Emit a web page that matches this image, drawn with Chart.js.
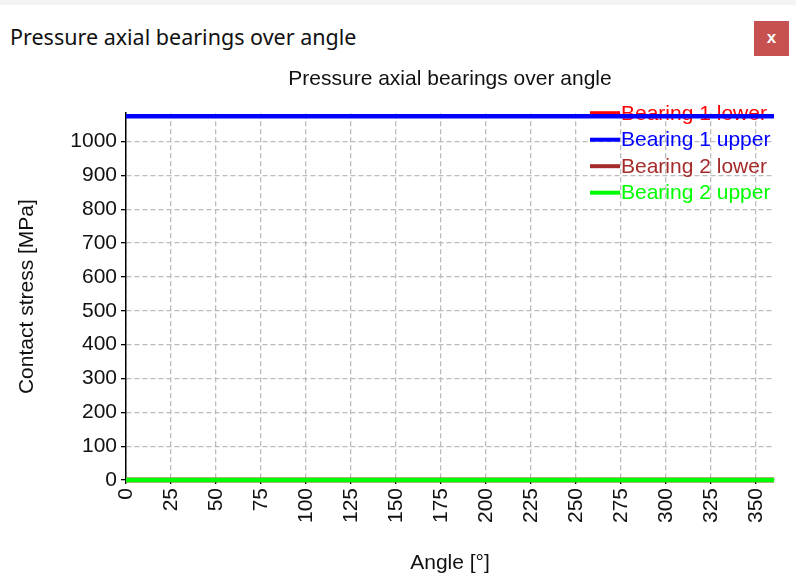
<!DOCTYPE html>
<html>
<head>
<meta charset="utf-8">
<script src="https://cdn.jsdelivr.net/npm/chart.js@4.4.1/dist/chart.umd.min.js"></script>
<style>
  body { margin: 0; background: #fff; }
  #wrap { position: relative; width: 796px; height: 579px; overflow: hidden; }
  #topline { position: absolute; left: 0; top: 0; width: 796px; height: 5px; background: #f4f4f4; }
  #header { position: absolute; left: 10px; top: 22px; font: 21.5px "Noto Sans", sans-serif; color: #111; white-space: nowrap; }
  #close { position: absolute; left: 754px; top: 21px; width: 35px; height: 35px; background: #c75050;
           color: #fff; font: bold 17px "Liberation Sans", sans-serif; text-align: center; line-height: 33px; }
  canvas { position: absolute; left: 0; top: 0; }
</style>
</head>
<body>
<div id="wrap">
  <div id="topline"></div>
  <div id="header">Pressure axial bearings over angle</div>
  <div id="close">x</div>
  <canvas id="pressureChart" width="796" height="579"></canvas>
</div>
<script>
const angles = [0, 360]
const bearing1Lower = [0, 0]
const bearing1Upper = [1075, 1075]
const bearing2Lower = [0, 0]
const bearing2Upper = [0, 0]

const xTickLabels = [0, 25, 50, 75, 100, 125, 150, 175, 200, 225, 250, 275, 300, 325, 350]
const yTickLabels = [0, 100, 200, 300, 400, 500, 600, 700, 800, 900, 1000]

const seriesNames = ["Bearing 1 lower", "Bearing 1 upper", "Bearing 2 lower", "Bearing 2 upper"]
const seriesValues = [bearing1Lower, bearing1Upper, bearing2Lower, bearing2Upper]
const seriesColors = ["#ff0000", "#0000ff", "#a52a2a", "#00ff00"]

const FONT = "'Liberation Sans', Arial, sans-serif"

// legend sits inside the plot, under the lines
const insideLegend = {
    id: 'insideLegend',
    beforeDatasetsDraw(chart) {
        const { ctx, chartArea } = chart
        ctx.save()
        ctx.font = "21px " + FONT
        ctx.textBaseline = 'middle'
        chart.data.datasets.forEach((ds, i) => {
            const y = chartArea.top + i * 26.5
            const x0 = chartArea.right - 184
            ctx.strokeStyle = ds.borderColor
            ctx.lineWidth = 4
            ctx.beginPath()
            ctx.moveTo(x0, y)
            ctx.lineTo(x0 + 30, y)
            ctx.stroke()
            ctx.fillStyle = ds.borderColor
            ctx.fillText(ds.label, x0 + 31, y + 1)
        })
        ctx.restore()
    }
}

const ctx = document.getElementById('pressureChart').getContext('2d')
const pressureChart = new Chart(ctx, {
    type: 'line',
    data: {
        datasets: seriesNames.map((name, i) => ({
            label: name,
            data: angles.map((a, k) => ({ x: a, y: seriesValues[i][k] })),
            borderColor: seriesColors[i],
            backgroundColor: seriesColors[i],
            borderWidth: 4.5,
            pointRadius: 0,
            tension: 0,
            clip: 5,
            order: seriesNames.length - i
        }))
    },
    options: {
        responsive: false,
        animation: false,
        devicePixelRatio: 1,
        layout: { padding: { top: 55, right: 22, bottom: 0, left: 0 } },
        plugins: {
            legend: { display: false },
            tooltip: { enabled: false },
            title: {
                display: true,
                text: 'Pressure axial bearings over angle',
                fullSize: false,
                color: '#111',
                font: { family: FONT, size: 21, weight: 'normal' },
                padding: { top: 12, bottom: 21 }
            }
        },
        scales: {
            x: {
                type: 'linear',
                min: 0,
                max: 360,
                afterBuildTicks: s => { s.ticks = xTickLabels.map(v => ({ value: v })) },
                afterFit: s => { s.height = 99 },
                ticks: {
                    autoSkip: false,
                    minRotation: 90,
                    maxRotation: 90,
                    padding: 4,
                    color: '#111',
                    font: { family: FONT, size: 21 },
                    callback: v => String(v)
                },
                grid: { color: '#bcbcbc', lineWidth: 1.3, tickColor: '#000', tickLength: 4 },
                border: { display: true, color: '#000', width: 1.5, dash: [5, 3] },
                title: {
                    display: true,
                    text: 'Angle [°]',
                    color: '#111',
                    font: { family: FONT, size: 21 },
                    padding: { top: 0, bottom: 3 }
                }
            },
            y: {
                min: 0,
                max: 1084,
                afterBuildTicks: s => { s.ticks = yTickLabels.map(v => ({ value: v })) },
                afterFit: s => { s.width = 126 },
                ticks: {
                    autoSkip: false,
                    padding: 4,
                    color: '#111',
                    font: { family: FONT, size: 21 },
                    callback: v => String(v)
                },
                grid: { color: '#bcbcbc', lineWidth: 1.3, tickColor: '#000', tickLength: 5 },
                border: { display: true, color: '#000', width: 1.5, dash: [5, 3] },
                title: {
                    display: true,
                    text: 'Contact stress [MPa]',
                    color: '#111',
                    font: { family: FONT, size: 21 },
                    padding: { top: 15, bottom: 0 }
                }
            }
        }
    },
    plugins: [insideLegend]
})
</script>
</body>
</html>
